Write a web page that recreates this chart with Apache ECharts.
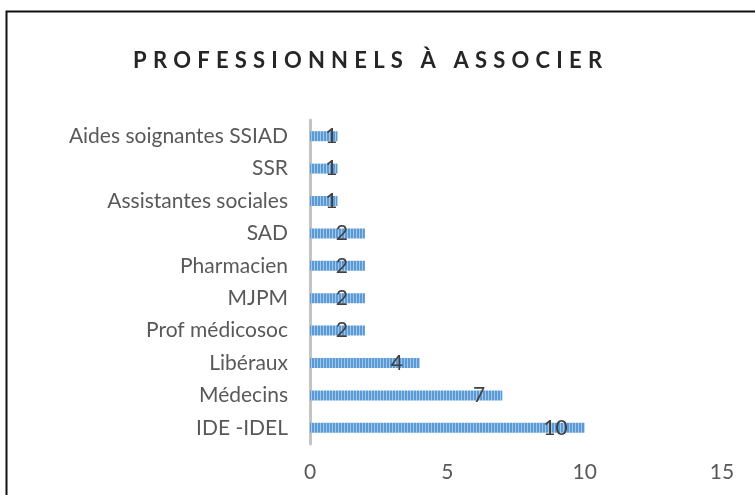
<!DOCTYPE html>
<html>
<head>
<meta charset="utf-8">
<script src="https://cdn.jsdelivr.net/npm/echarts@6/dist/echarts.min.js"></script>
<style>html,body{margin:0;padding:0;background:#fff;}#c{width:755px;height:495px;}</style>
</head>
<body>
<div id="c"></div>
<script>
const titleText = 'PROFESSIONNELS À ASSOCIER';
const categories = ['IDE -IDEL', 'Médecins', 'Libéraux', 'Prof médicosoc', 'MJPM', 'Pharmacien', 'SAD', 'Assistantes sociales', 'SSR', 'Aides soignantes SSIAD'];
const values = [10, 7, 4, 2, 2, 2, 2, 1, 1, 1];
const xTicks = [0, 5, 10, 15];

const pc = document.createElement('canvas');
pc.width = 3; pc.height = 4;
const g = pc.getContext('2d');
g.fillStyle = '#a4c6ea'; g.fillRect(0, 0, 3, 4);
g.fillStyle = '#5b9bd5'; g.fillRect(0, 0, 2, 4);

const chart = echarts.init(document.getElementById('c'), null, {renderer: 'canvas'});
const FONT = 'Lato, "Open Sans", sans-serif';
const titleRich = titleText.split('').map(c => '{l|' + c + '}').join('');

chart.setOption({
  animation: false,
  backgroundColor: '#fff',
  title: {
    text: titleRich,
    left: 130,
    top: 50,
    padding: 0,
    textStyle: {
      rich: {
        l: {fontFamily: FONT, fontWeight: 'bold', fontSize: 22, color: '#262626', padding: [0, 3.1, 0, 3.1]}
      }
    }
  },
  graphic: [{
    type: 'rect',
    shape: {x: 6.5, y: 11.5, width: 900, height: 700},
    style: {fill: 'none', stroke: '#111', lineWidth: 2},
    silent: true
  }],
  grid: {left: 310, right: 33, top: 120, bottom: 51, containLabel: false},
  xAxis: {
    type: 'value',
    min: xTicks[0],
    max: xTicks[xTicks.length - 1],
    interval: 5,
    axisLine: {show: false},
    axisTick: {show: false},
    splitLine: {show: false},
    axisLabel: {fontFamily: FONT, fontSize: 21, color: '#595959', margin: 18}
  },
  yAxis: {
    type: 'category',
    data: categories,
    axisLine: {show: true, lineStyle: {color: '#c4c4c4', width: 3}},
    axisTick: {show: false},
    axisLabel: {fontFamily: FONT, fontSize: 21, color: '#595959', margin: 22}
  },
  series: [{
    type: 'bar',
    barWidth: 10,
    itemStyle: {color: {image: pc, repeat: 'repeat'}},
    data: values.map(v => ({
      value: v,
      label: {offset: v < 2 ? [17, 0] : [0, 0]}
    })),
    label: {
      show: true,
      position: 'insideRight',
      distance: 17,
      fontFamily: FONT,
      fontSize: 21,
      color: '#404040'
    }
  }]
});
</script>
</body>
</html>
